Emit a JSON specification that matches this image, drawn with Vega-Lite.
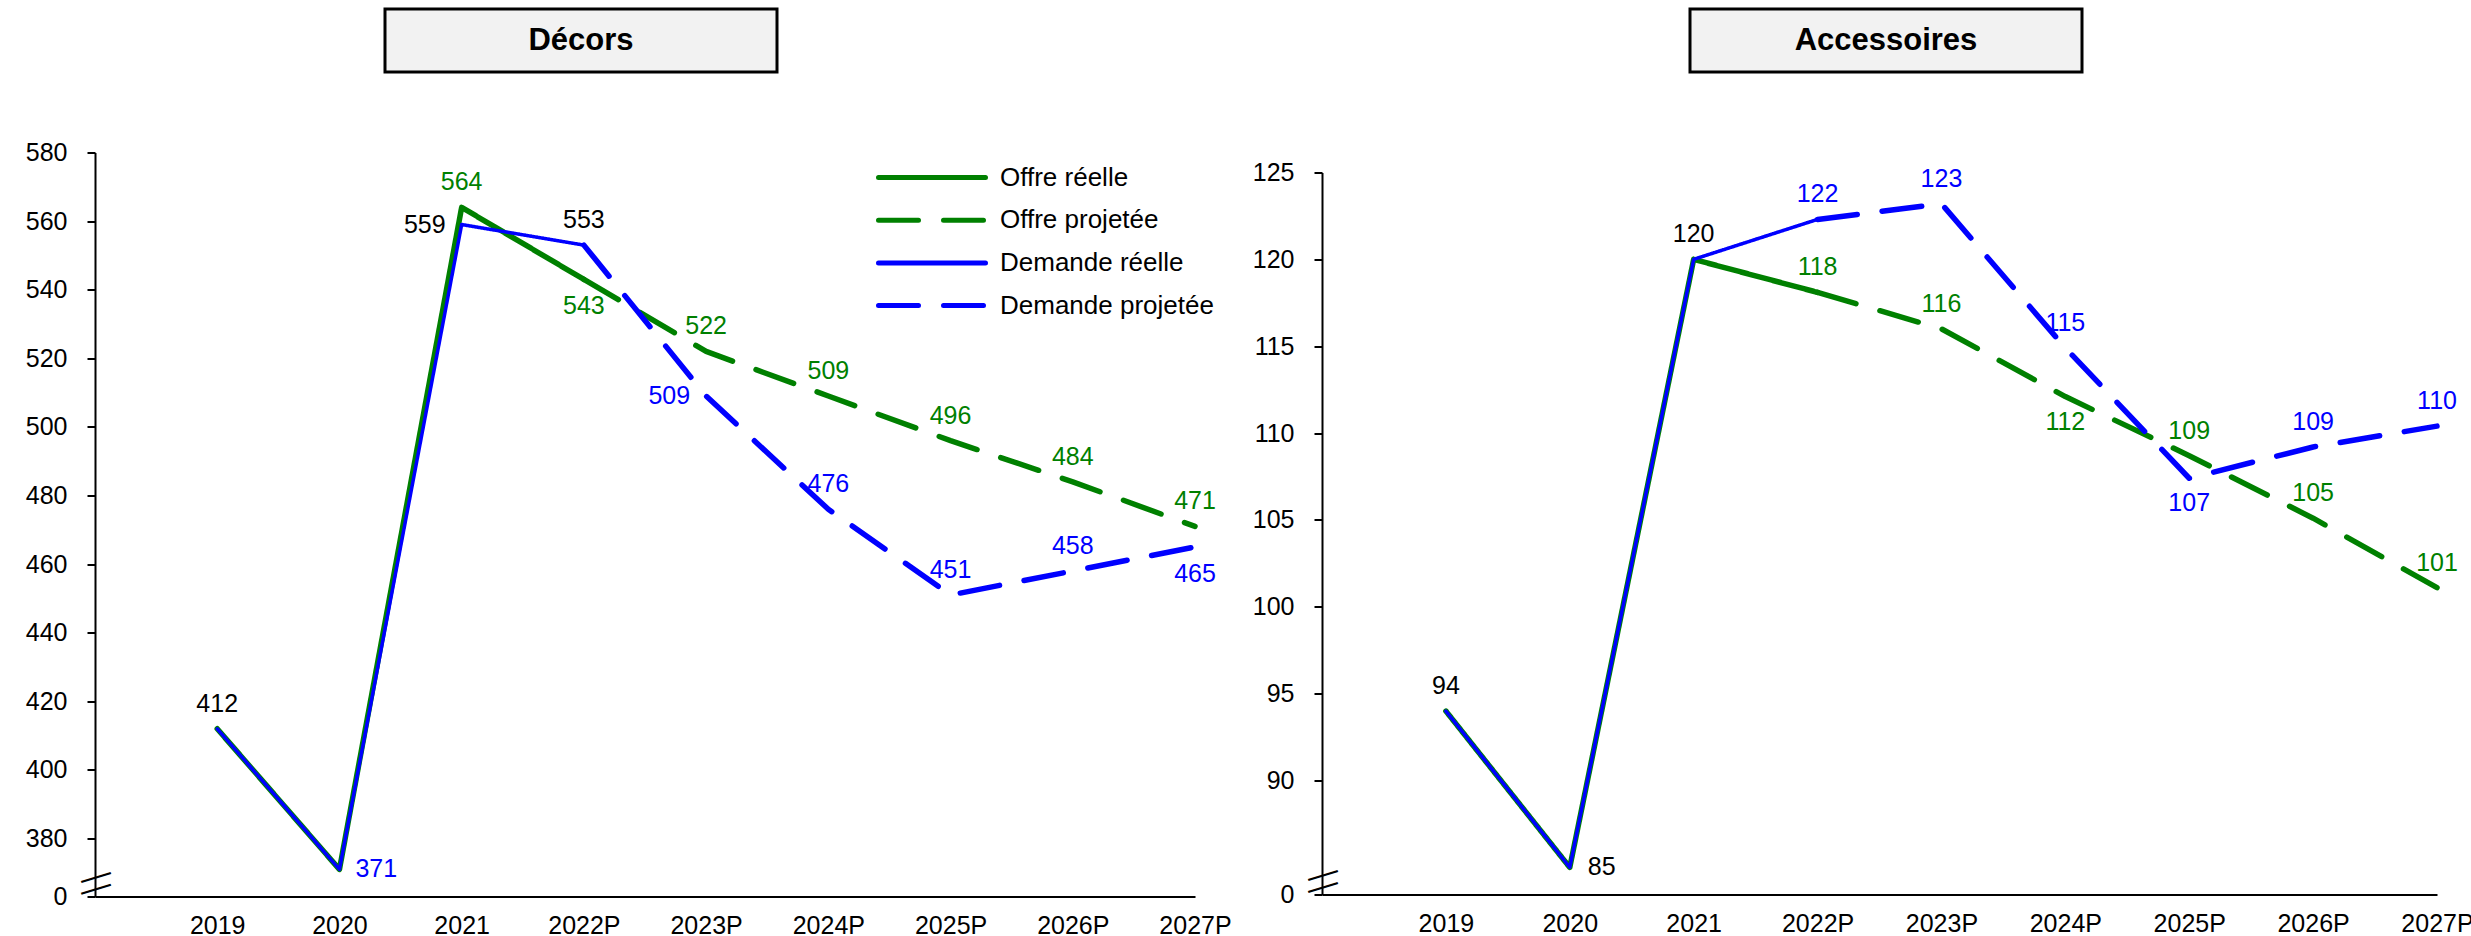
{
  "$schema": "https://vega.github.io/schema/vega-lite/v6.json",
  "padding": {"left": 25, "top": 7, "right": 0, "bottom": 0},
  "background": "white",
  "config": {
    "font": "Liberation Sans",
    "view": {"stroke": null},
    "axis": {"domainColor": "#000000", "domainWidth": 2, "tickColor": "#000000", "tickWidth": 2, "labelColor": "#000000", "labelFontSize": 25, "labelFont": "Liberation Sans", "grid": false, "title": null},
    "text": {"font": "Liberation Sans", "fontSize": 25}
  },
  "datasets": {
    "lignes": [
      {"panel": "Décors", "serie": "Offre réelle", "annee": "2019", "valeur": 412},
      {"panel": "Décors", "serie": "Offre réelle", "annee": "2020", "valeur": 371},
      {"panel": "Décors", "serie": "Offre réelle", "annee": "2021", "valeur": 564},
      {"panel": "Décors", "serie": "Offre réelle", "annee": "2022P", "valeur": 543},
      {"panel": "Décors", "serie": "Offre projetée", "annee": "2022P", "valeur": 543},
      {"panel": "Décors", "serie": "Offre projetée", "annee": "2023P", "valeur": 522},
      {"panel": "Décors", "serie": "Offre projetée", "annee": "2024P", "valeur": 509},
      {"panel": "Décors", "serie": "Offre projetée", "annee": "2025P", "valeur": 496},
      {"panel": "Décors", "serie": "Offre projetée", "annee": "2026P", "valeur": 484},
      {"panel": "Décors", "serie": "Offre projetée", "annee": "2027P", "valeur": 471},
      {"panel": "Décors", "serie": "Demande réelle", "annee": "2019", "valeur": 412},
      {"panel": "Décors", "serie": "Demande réelle", "annee": "2020", "valeur": 371},
      {"panel": "Décors", "serie": "Demande réelle", "annee": "2021", "valeur": 559},
      {"panel": "Décors", "serie": "Demande réelle", "annee": "2022P", "valeur": 553},
      {"panel": "Décors", "serie": "Demande projetée", "annee": "2022P", "valeur": 553},
      {"panel": "Décors", "serie": "Demande projetée", "annee": "2023P", "valeur": 509},
      {"panel": "Décors", "serie": "Demande projetée", "annee": "2024P", "valeur": 476},
      {"panel": "Décors", "serie": "Demande projetée", "annee": "2025P", "valeur": 451},
      {"panel": "Décors", "serie": "Demande projetée", "annee": "2026P", "valeur": 458},
      {"panel": "Décors", "serie": "Demande projetée", "annee": "2027P", "valeur": 465},
      {"panel": "Accessoires", "serie": "Offre réelle", "annee": "2019", "valeur": 94},
      {"panel": "Accessoires", "serie": "Offre réelle", "annee": "2020", "valeur": 85},
      {"panel": "Accessoires", "serie": "Offre réelle", "annee": "2021", "valeur": 120},
      {"panel": "Accessoires", "serie": "Offre réelle", "annee": "2022P", "valeur": 118.1},
      {"panel": "Accessoires", "serie": "Offre projetée", "annee": "2022P", "valeur": 118.1},
      {"panel": "Accessoires", "serie": "Offre projetée", "annee": "2023P", "valeur": 116},
      {"panel": "Accessoires", "serie": "Offre projetée", "annee": "2024P", "valeur": 112.1},
      {"panel": "Accessoires", "serie": "Offre projetée", "annee": "2025P", "valeur": 108.7},
      {"panel": "Accessoires", "serie": "Offre projetée", "annee": "2026P", "valeur": 105.1},
      {"panel": "Accessoires", "serie": "Offre projetée", "annee": "2027P", "valeur": 101.1},
      {"panel": "Accessoires", "serie": "Demande réelle", "annee": "2019", "valeur": 94},
      {"panel": "Accessoires", "serie": "Demande réelle", "annee": "2020", "valeur": 85},
      {"panel": "Accessoires", "serie": "Demande réelle", "annee": "2021", "valeur": 120},
      {"panel": "Accessoires", "serie": "Demande réelle", "annee": "2022P", "valeur": 122.3},
      {"panel": "Accessoires", "serie": "Demande projetée", "annee": "2022P", "valeur": 122.3},
      {"panel": "Accessoires", "serie": "Demande projetée", "annee": "2023P", "valeur": 123.2},
      {"panel": "Accessoires", "serie": "Demande projetée", "annee": "2024P", "valeur": 114.9},
      {"panel": "Accessoires", "serie": "Demande projetée", "annee": "2025P", "valeur": 107.4},
      {"panel": "Accessoires", "serie": "Demande projetée", "annee": "2026P", "valeur": 109.2},
      {"panel": "Accessoires", "serie": "Demande projetée", "annee": "2027P", "valeur": 110.4}
    ],
    "coupures": [
      {"panel": "Décors", "position": "haut", "niveau": 368.78, "signe": "—"},
      {"panel": "Décors", "position": "bas", "niveau": 365.29, "signe": "—"},
      {"panel": "Accessoires", "position": "haut", "niveau": 84.56, "signe": "—"},
      {"panel": "Accessoires", "position": "bas", "niveau": 83.87, "signe": "—"}
    ]
  },
  "spacing": 20,
  "resolve": {
    "scale": {"color": "independent", "strokeDash": "independent"},
    "legend": {"color": "independent", "strokeDash": "independent"}
  },
  "hconcat": [
    {
      "spacing": 66.5,
      "resolve": {
        "scale": {"color": "independent", "strokeDash": "independent"},
        "legend": {"color": "independent", "strokeDash": "independent"}
      },
      "vconcat": [
        {
          "bounds": "flush",
          "spacing": 0,
          "hconcat": [
            {"width": 289.5, "height": 63, "view": {"fill": "transparent", "stroke": null}, "data": {"values": []}, "mark": "point"},
            {
              "width": 392, "height": 63,
              "view": {"fill": "#f2f2f2", "stroke": "#000000", "strokeWidth": 3},
              "data": {"values": [{"titre": "Décors"}]},
              "mark": {"type": "text", "fontSize": 31, "fontWeight": "bold", "color": "#000000"},
              "encoding": {"text": {"field": "titre"}}
            }
          ]
        },
        {
          "width": 1100, "height": 744,
          "data": {"name": "lignes"},
          "encoding": {
            "x": {"field": "annee", "type": "ordinal",
                  "scale": {"type": "point", "domain": ["·", "2019", "2020", "2021", "2022P", "2023P", "2024P", "2025P", "2026P", "2027P"], "padding": 0},
                  "axis": {"ticks": false, "tickSize": 0, "labelPadding": 17, "labelAngle": 0, "labelExpr": "datum.value === '·' ? '' : datum.label"}},
            "y": {"field": "valeur", "type": "quantitative",
                  "scale": {"domain": [363.1, 580], "zero": false, "nice": false},
                  "axis": {"values": [363.1, 380, 400, 420, 440, 460, 480, 500, 520, 540, 560, 580], "labelExpr": "datum.value < 370 ? '0' : datum.label", "tickSize": 8, "labelPadding": 20}}
          },
          "layer": [
            {
              "transform": [{"filter": "datum.panel === 'Décors'"}],
              "mark": {"type": "line", "strokeCap": "round", "strokeJoin": "round"},
              "encoding": {
                "color": {"field": "serie", "type": "nominal",
                          "scale": {"domain": ["Offre réelle", "Offre projetée", "Demande réelle", "Demande projetée"], "range": ["#008000", "#008000", "#0000ff", "#0000ff"]},
                          "legend": {"title": null, "orient": "none", "legendX": 781, "legendY": 12, "symbolType": "stroke", "symbolSize": 11449, "symbolStrokeWidth": 5, "clipHeight": 26, "labelFontSize": 26, "labelFont": "Liberation Sans", "labelColor": "#000000", "rowPadding": 16.7, "labelOffset": 12, "labelLimit": 400,
                                     "encode": {"symbols": {"update": {"strokeCap": {"value": "round"}}}}}},
                "strokeDash": {"field": "serie", "type": "nominal",
                               "scale": {"domain": ["Offre réelle", "Offre projetée", "Demande réelle", "Demande projetée"], "range": [[1, 0], [40, 25], [1, 0], [40, 25]]}},
                "strokeWidth": {"condition": {"test": "datum.serie === 'Demande réelle'", "value": 3.5}, "value": 5.5}
              }
            },
            {
              "transform": [{"filter": "datum.panel === 'Décors'"}, {"filter": "indexof(['2019|Demande réelle','2021|Offre réelle','2022P|Demande réelle','2023P|Offre projetée','2024P|Offre projetée','2024P|Demande projetée','2025P|Offre projetée','2025P|Demande projetée','2026P|Offre projetée','2026P|Demande projetée','2027P|Offre projetée'], datum.annee + '|' + datum.serie) >= 0"}],
              "mark": {"type": "text", "dy": -25},
              "encoding": {
                "text": {"field": "valeur", "type": "quantitative", "format": ".0f"},
                "color": {"condition": [{"test": "indexof(['2019|Demande réelle','2021|Demande réelle','2022P|Demande réelle'], datum.annee + '|' + datum.serie) >= 0", "value": "#000000"}, {"test": "indexof(datum.serie, 'Offre') === 0", "value": "#008000"}], "value": "#0000ff"}
              }
            },
            {
              "transform": [{"filter": "datum.panel === 'Décors'"}, {"filter": "indexof(['2022P|Offre réelle','2027P|Demande projetée'], datum.annee + '|' + datum.serie) >= 0"}],
              "mark": {"type": "text", "dy": 27},
              "encoding": {
                "text": {"field": "valeur", "type": "quantitative", "format": ".0f"},
                "color": {"condition": [{"test": "indexof(datum.serie, 'Offre') === 0", "value": "#008000"}], "value": "#0000ff"}
              }
            },
            {
              "transform": [{"filter": "datum.panel === 'Décors'"}, {"filter": "indexof(['2020|Demande réelle'], datum.annee + '|' + datum.serie) >= 0"}],
              "mark": {"type": "text", "align": "left", "dx": 16},
              "encoding": {
                "text": {"field": "valeur", "type": "quantitative", "format": ".0f"},
                "color": {"value": "#0000ff"}
              }
            },
            {
              "transform": [{"filter": "datum.panel === 'Décors'"}, {"filter": "indexof(['2021|Demande réelle','2023P|Demande projetée'], datum.annee + '|' + datum.serie) >= 0"}],
              "mark": {"type": "text", "align": "right", "dx": -16},
              "encoding": {
                "text": {"field": "valeur", "type": "quantitative", "format": ".0f"},
                "color": {"condition": [{"test": "datum.annee === '2021'", "value": "#000000"}], "value": "#0000ff"}
              }
            },
            {
              "data": {"name": "coupures"},
              "transform": [{"filter": "datum.panel === 'Décors'"}],
              "mark": {"type": "text", "fontSize": 31, "angle": -17, "baseline": "alphabetic", "dx": 1, "dy": 8.5, "color": "#000000"},
              "encoding": {"text": {"field": "signe"}, "x": {"datum": "·"}, "y": {"field": "niveau", "type": "quantitative"}}
            }
          ]
        }
      ]
    },
    {
      "spacing": 86.5,
      "resolve": {
        "scale": {"color": "independent", "strokeDash": "independent"},
        "legend": {"color": "independent", "strokeDash": "independent"}
      },
      "vconcat": [
        {
          "bounds": "flush",
          "spacing": 0,
          "hconcat": [
            {"width": 368, "height": 63, "view": {"fill": "transparent", "stroke": null}, "data": {"values": []}, "mark": "point"},
            {
              "width": 392, "height": 63,
              "view": {"fill": "#f2f2f2", "stroke": "#000000", "strokeWidth": 3},
              "data": {"values": [{"titre": "Accessoires"}]},
              "mark": {"type": "text", "fontSize": 31, "fontWeight": "bold", "color": "#000000"},
              "encoding": {"text": {"field": "titre"}}
            }
          ]
        },
        {
          "width": 1115, "height": 722,
          "data": {"name": "lignes"},
          "encoding": {
            "x": {"field": "annee", "type": "ordinal",
                  "scale": {"type": "point", "domain": ["·", "2019", "2020", "2021", "2022P", "2023P", "2024P", "2025P", "2026P", "2027P"], "padding": 0},
                  "axis": {"ticks": false, "tickSize": 0, "labelPadding": 17, "labelAngle": 0, "labelExpr": "datum.value === '·' ? '' : datum.label"}},
            "y": {"field": "valeur", "type": "quantitative",
                  "scale": {"domain": [83.44, 125], "zero": false, "nice": false},
                  "axis": {"values": [83.44, 90, 95, 100, 105, 110, 115, 120, 125], "labelExpr": "datum.value < 85 ? '0' : datum.label", "tickSize": 8, "labelPadding": 20}}
          },
          "layer": [
            {
              "transform": [{"filter": "datum.panel === 'Accessoires'"}],
              "mark": {"type": "line", "strokeCap": "round", "strokeJoin": "round"},
              "encoding": {
                "color": {"field": "serie", "type": "nominal",
                          "scale": {"domain": ["Offre réelle", "Offre projetée", "Demande réelle", "Demande projetée"], "range": ["#008000", "#008000", "#0000ff", "#0000ff"]},
                          "legend": null},
                "strokeDash": {"field": "serie", "type": "nominal",
                               "scale": {"domain": ["Offre réelle", "Offre projetée", "Demande réelle", "Demande projetée"], "range": [[1, 0], [40, 25], [1, 0], [40, 25]]},
                               "legend": null},
                "strokeWidth": {"condition": {"test": "datum.serie === 'Demande réelle'", "value": 3.5}, "value": 5.5}
              }
            },
            {
              "transform": [{"filter": "datum.panel === 'Accessoires'"}, {"filter": "indexof(['2019|Demande réelle','2021|Demande réelle','2022P|Demande réelle','2022P|Offre réelle','2023P|Demande projetée','2023P|Offre projetée','2024P|Demande projetée','2025P|Offre projetée','2026P|Demande projetée','2026P|Offre projetée','2027P|Demande projetée','2027P|Offre projetée'], datum.annee + '|' + datum.serie) >= 0"}],
              "mark": {"type": "text", "dy": -25},
              "encoding": {
                "text": {"field": "valeur", "type": "quantitative", "format": ".0f"},
                "color": {"condition": [{"test": "indexof(['2019|Demande réelle','2020|Demande réelle','2021|Demande réelle'], datum.annee + '|' + datum.serie) >= 0", "value": "#000000"}, {"test": "indexof(datum.serie, 'Offre') === 0", "value": "#008000"}], "value": "#0000ff"}
              }
            },
            {
              "transform": [{"filter": "datum.panel === 'Accessoires'"}, {"filter": "indexof(['2024P|Offre projetée','2025P|Demande projetée'], datum.annee + '|' + datum.serie) >= 0"}],
              "mark": {"type": "text", "dy": 25},
              "encoding": {
                "text": {"field": "valeur", "type": "quantitative", "format": ".0f"},
                "color": {"condition": [{"test": "indexof(datum.serie, 'Offre') === 0", "value": "#008000"}], "value": "#0000ff"}
              }
            },
            {
              "transform": [{"filter": "datum.panel === 'Accessoires'"}, {"filter": "indexof(['2020|Demande réelle'], datum.annee + '|' + datum.serie) >= 0"}],
              "mark": {"type": "text", "align": "left", "dx": 18},
              "encoding": {
                "text": {"field": "valeur", "type": "quantitative", "format": ".0f"},
                "color": {"value": "#000000"}
              }
            },
            {
              "data": {"name": "coupures"},
              "transform": [{"filter": "datum.panel === 'Accessoires'"}],
              "mark": {"type": "text", "fontSize": 31, "angle": -17, "baseline": "alphabetic", "dx": 1, "dy": 8.5, "color": "#000000"},
              "encoding": {"text": {"field": "signe"}, "x": {"datum": "·"}, "y": {"field": "niveau", "type": "quantitative"}}
            }
          ]
        }
      ]
    }
  ]
}
